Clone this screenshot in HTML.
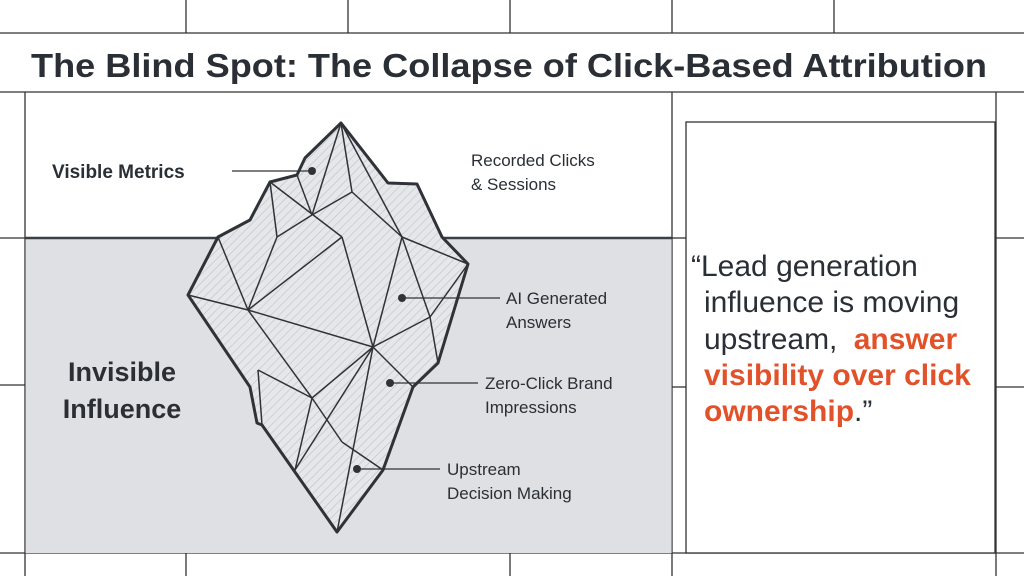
<!DOCTYPE html>
<html><head><meta charset="utf-8"><style>
html,body{margin:0;padding:0;background:#fff}
svg{display:block}
text{font-family:"Liberation Sans",sans-serif}
</style></head><body>
<svg width="1024" height="576" viewBox="0 0 1024 576" xmlns="http://www.w3.org/2000/svg">
<defs>
<pattern id="h" width="6" height="6" patternUnits="userSpaceOnUse" patternTransform="rotate(45)">
<rect width="6" height="6" fill="#e6e7ea"/>
<line x1="0" y1="0" x2="0" y2="6" stroke="#bfc1c5" stroke-width="1.2"/>
</pattern>
</defs>
<rect width="1024" height="576" fill="#fff"/>
<g stroke="#333" stroke-width="1.3" fill="none">
<line x1="0" y1="33" x2="1024" y2="33"/>
<line x1="0" y1="92" x2="1024" y2="92"/>
<line x1="0" y1="553" x2="1024" y2="553"/>
<line x1="186" y1="0" x2="186" y2="33"/><line x1="348" y1="0" x2="348" y2="33"/>
<line x1="510" y1="0" x2="510" y2="33"/><line x1="672" y1="0" x2="672" y2="33"/>
<line x1="834" y1="0" x2="834" y2="33"/>
<line x1="25" y1="92" x2="25" y2="576"/><line x1="996" y1="92" x2="996" y2="576"/>
<line x1="0" y1="238" x2="25" y2="238"/><line x1="0" y1="385" x2="25" y2="385"/>
<line x1="996" y1="238" x2="1024" y2="238"/><line x1="996" y1="387" x2="1024" y2="387"/>
<line x1="672" y1="92" x2="672" y2="576"/>
<line x1="186" y1="553" x2="186" y2="576"/><line x1="510" y1="553" x2="510" y2="576"/>
<line x1="672" y1="238" x2="686" y2="238"/><line x1="672" y1="387" x2="686" y2="387"/>
</g>
<rect x="25.6" y="238" width="646" height="315" fill="#dfe0e4"/>
<rect x="686" y="122" width="309" height="431" fill="#fff" stroke="#333" stroke-width="1.3"/>
<line x1="25" y1="238" x2="672" y2="238" stroke="#3a3f45" stroke-width="2.5"/>
<text x="509" y="77" text-anchor="middle" font-size="33" font-weight="bold" fill="#2a2f35" textLength="956" lengthAdjust="spacingAndGlyphs">The Blind Spot: The Collapse of Click-Based Attribution</text>
<polygon points="341,123 388,183 417,184 442,237 468,264 438,363 413,387 383,470 337,532 262,425 257,423 250,387 188,295 218,237 250,220 270,182 297,175 305,158" fill="url(#h)" stroke="#2f3338" stroke-width="3" stroke-linejoin="round"/>
<g stroke="#2f3338" stroke-width="1.5" fill="none">
<line x1="341" y1="123" x2="312" y2="215"/><line x1="341" y1="123" x2="352" y2="192"/><line x1="341" y1="123" x2="402" y2="237"/>
<line x1="270" y1="182" x2="277" y2="237"/><line x1="270" y1="182" x2="342" y2="237"/>
<line x1="297" y1="175" x2="312" y2="215"/><line x1="352" y1="192" x2="312" y2="215"/><line x1="352" y1="192" x2="402" y2="237"/>
<line x1="312" y1="215" x2="277" y2="237"/>
<line x1="402" y1="237" x2="468" y2="264"/><line x1="342" y1="237" x2="248" y2="310"/><line x1="277" y1="237" x2="248" y2="310"/>
<line x1="218" y1="237" x2="248" y2="310"/><line x1="188" y1="295" x2="248" y2="310"/>
<line x1="248" y1="310" x2="373" y2="347"/><line x1="342" y1="237" x2="373" y2="347"/><line x1="402" y1="237" x2="373" y2="347"/>
<line x1="402" y1="237" x2="430" y2="317"/><line x1="430" y1="317" x2="438" y2="363"/><line x1="468" y1="264" x2="430" y2="317"/>
<line x1="373" y1="347" x2="430" y2="317"/><line x1="248" y1="310" x2="312" y2="398"/><line x1="258" y1="370" x2="312" y2="398"/>
<line x1="258" y1="370" x2="262" y2="425"/><line x1="312" y1="398" x2="342" y2="442"/><line x1="373" y1="347" x2="312" y2="398"/>
<line x1="373" y1="347" x2="295" y2="470"/><line x1="312" y1="398" x2="295" y2="470"/><line x1="373" y1="347" x2="337" y2="532"/>
<line x1="342" y1="442" x2="383" y2="470"/><line x1="373" y1="347" x2="413" y2="387"/>
</g>
<g stroke="#2f3338" stroke-width="1.3">
<line x1="232" y1="171" x2="312" y2="171"/><line x1="402" y1="298" x2="500" y2="298"/>
<line x1="390" y1="383" x2="478" y2="383"/><line x1="357" y1="469" x2="440" y2="469"/>
</g>
<g fill="#2f3338"><circle cx="312" cy="171" r="4"/><circle cx="402" cy="298" r="4"/><circle cx="390" cy="383" r="4"/><circle cx="357" cy="469" r="4"/></g>
<text x="52" y="178" font-size="19" font-weight="bold" fill="#2a2f35">Visible Metrics</text>
<g font-size="17" fill="#2a2f35">
<text x="471" y="166">Recorded Clicks</text><text x="471" y="190">&amp; Sessions</text>
<text x="506" y="304">AI Generated</text><text x="506" y="328">Answers</text>
<text x="485" y="389">Zero-Click Brand</text><text x="485" y="413">Impressions</text>
<text x="447" y="475">Upstream</text><text x="447" y="499">Decision Making</text>
</g>
<g font-size="27" font-weight="bold" fill="#2a2f35" text-anchor="middle">
<text x="122" y="381">Invisible</text><text x="122" y="418">Influence</text>
</g>
<g font-size="30" fill="#2a2f35">
<text x="691" y="276">“Lead generation</text>
<text x="704" y="312">influence is moving</text>
<text x="704" y="349">upstream, <tspan fill="#e2522a" font-weight="bold" dx="8">answer</tspan></text>
<text x="704" y="385" fill="#e2522a" font-weight="bold">visibility over click</text>
<text x="704" y="421"><tspan fill="#e2522a" font-weight="bold">ownership</tspan>.”</text>
</g>
</svg>
</body></html>
